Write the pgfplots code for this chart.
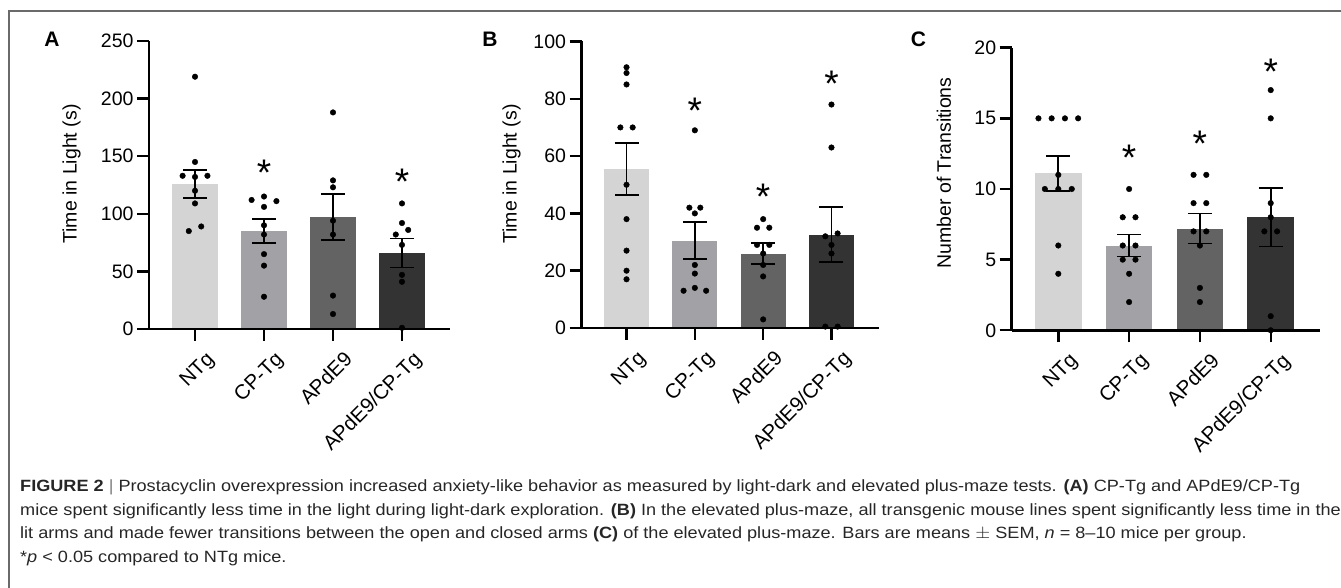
\documentclass[border=0pt]{standalone}
\usepackage{fontspec}
\setmainfont{Liberation Sans}
\usepackage{graphicx}
\usepackage{pgfplots}
\pgfplotsset{compat=1.18}

\definecolor{cNT}{HTML}{D4D4D4}
\definecolor{cCP}{HTML}{A2A2A6}
\definecolor{cAP}{HTML}{636363}
\definecolor{cAC}{HTML}{333333}
\definecolor{frame}{HTML}{6A6A6A}

\newcommand{\tickfont}{\fontsize{19.5}{22}\selectfont}
\newcommand{\xtickfont}{\fontsize{20.5}{23}\selectfont}
\newcommand{\capfont}{\fontsize{16.3}{19}\selectfont\color{black!85}}

\tikzset{ast/.style={font=\fontsize{37}{37}\selectfont, anchor=base, yshift=-21.5pt, inner sep=0pt}}

\pgfplotsset{
 panel/.style={
  scale only axis, anchor=south west, axis on top, clip=false,
  axis x line=bottom, axis y line=left,
  axis line style={line width=2.6pt, -},
  tick align=outside, major tick length=12pt,
  every tick/.style={line width=2.4pt, black},
  ymin=0,
  xtick={0,1,2,3},
  xticklabels={NTg,CP-Tg,APdE9,APdE9/CP-Tg},
  xticklabel style={rotate=45, anchor=north east, font=\xtickfont, xshift=4pt, yshift=-10pt},
  yticklabel style={font=\tickfont},
  /pgf/number format/assume math mode=true,
 },
 bars/.style={ybar, bar width=0.66, bar shift=0pt, draw=none, fill=#1,
  error bars/.cd, y dir=both, y explicit,
  error bar style={line width=1.8pt, draw=black},
  error mark options={rotate=90, line width=1.8pt, draw=black, mark size=12pt}},
 dots/.style={only marks, mark=*, mark size=2.8pt, draw=black, fill=black},
}

\newsavebox{\capbox}

\begin{document}
\sbox{\capbox}{\capfont\textbf{FIGURE 2} {\color{black!50}|} Prostacyclin overexpression increased anxiety-like behavior as measured by light-dark and elevated plus-maze tests. \textbf{(A)} CP-Tg and APdE9/CP-Tg}%
\pgfmathsetmacro{\capratio}{1280/\wd\capbox}%
\begin{tikzpicture}[x=1pt,y=1pt]
\path[use as bounding box] (0,0) rectangle (1341,588);
\draw[frame, line width=1.3pt] (9,0) -- (9,577) -- (1341,577);

% ---------- Panel A ----------
\begin{axis}[panel, at={(149pt,259pt)}, width=301pt, height=288pt,
  xmin=-0.667, xmax=3.696, ymax=250, ytick={0,50,100,150,200,250}]
\addplot[bars=cNT] coordinates {(0,126) +- (0,12.2)};
\addplot[bars=cCP] coordinates {(1,85) +- (0,10.3)};
\addplot[bars=cAP] coordinates {(2,97) +- (0,20)};
\addplot[bars=cAC] coordinates {(3,66) +- (0,12.6)};
\addplot[dots] coordinates {
 (0,219) (0,145) (-0.18,133) (0,132) (0.18,133) (0,120) (0,109) (-0.09,85) (0.09,89)
 (0.82,112) (1,115) (1.18,111) (1,106) (1,90) (1,82) (1,65) (1,55) (1,28)
 (2,188) (2,129) (2,123) (2,94) (2,82) (2,29) (2,13)
 (3,109) (3,92) (2.91,82) (3.09,86) (3,73) (3,47) (3,41) (3,1)
};
\node[ast] at (axis cs:1,143) {*};
\node[ast] at (axis cs:3,135) {*};
\end{axis}

% ---------- Panel B ----------
\begin{axis}[panel, at={(581.5pt,260pt)}, width=297.8pt, height=286.5pt,
  xmin=-0.659, xmax=3.70, ymax=100, ytick={0,20,40,60,80,100}]
\addplot[bars=cNT] coordinates {(0,55.5) +- (0,9.15)};
\addplot[bars=cCP] coordinates {(1,30.5) +- (0,6.4)};
\addplot[bars=cAP] coordinates {(2,26) +- (0,3.7)};
\addplot[bars=cAC] coordinates {(3,32.5) +- (0,9.6)};
\addplot[dots] coordinates {
 (0,91) (0,89) (0,85) (-0.09,70) (0.09,70) (0,50) (0,38) (0,27) (0,20) (0,17)
 (1,69) (0.92,42) (1.08,42) (1,40) (1,22) (1,19) (0.835,13) (1,14) (1.165,13)
 (2,38) (1.91,35) (2.09,35) (1.91,29) (2.09,29) (2,26) (2,22) (2,18) (2,3)
 (3,78) (3,63) (2.91,32) (3.09,33) (3,29) (3,26) (2.91,0.5) (3.09,0.5)
};
\node[ast] at (axis cs:1,79) {*};
\node[ast] at (axis cs:2,49) {*};
\node[ast] at (axis cs:3,88.3) {*};
\end{axis}

% ---------- Panel C ----------
\begin{axis}[panel, at={(1011.7pt,257.7pt)}, width=308.3pt, height=282.6pt,
  xmin=-0.658, xmax=3.696, ymax=20, ytick={0,5,10,15,20}]
\addplot[bars=cNT] coordinates {(0,11.1) +- (0,1.25)};
\addplot[bars=cCP] coordinates {(1,6.0) +- (0,0.78)};
\addplot[bars=cAP] coordinates {(2,7.2) +- (0,1.06)};
\addplot[bars=cAC] coordinates {(3,8.0) +- (0,2.07)};
\addplot[dots] coordinates {
 (-0.28,15) (-0.094,15) (0.094,15) (0.28,15) (0,11) (-0.19,10) (0,10) (0.19,10) (0,6) (0,4)
 (1,10) (0.91,8) (1.09,8) (0.91,6) (1.09,6) (0.91,5) (1.09,5) (1,4) (1,2)
 (1.91,11) (2.09,11) (1.91,9) (2.09,9) (1.91,7) (2.09,7) (2,6) (2,3) (2,2)
 (3,17) (3,15) (3,9) (3,8) (2.91,7) (3.09,7) (3,1) (3,0)
};
\node[ast] at (axis cs:1,12.8) {*};
\node[ast] at (axis cs:2,13.8) {*};
\node[ast] at (axis cs:3,18.9) {*};
\end{axis}

% panel letters and y labels
\node[font=\fontsize{21}{21}\selectfont\bfseries] at (52,548.5) {A};
\node[font=\fontsize{21}{21}\selectfont\bfseries] at (490,549) {B};
\node[font=\fontsize{21}{21}\selectfont\bfseries] at (918.5,548.5) {C};
\node[rotate=90, font=\tickfont] at (71.7,414) {Time in Light (s)};
\node[rotate=90, font=\tickfont] at (511.7,414) {Time in Light (s)};
\node[rotate=90, font=\tickfont] at (944,415) {Number of Transitions};

% caption
\node[anchor=base west, inner sep=0pt] at (20,96) {\scalebox{\capratio}[1]{\usebox{\capbox}}};
\node[anchor=base west, inner sep=0pt] at (20,72.5) {\scalebox{\capratio}[1]{\capfont mice spent significantly less time in the light during light-dark exploration. \textbf{(B)} In the elevated plus-maze, all transgenic mouse lines spent significantly less time in the}};
\node[anchor=base west, inner sep=0pt] at (20,49) {\scalebox{\capratio}[1]{\capfont lit arms and made fewer transitions between the open and closed arms \textbf{(C)} of the elevated plus-maze. Bars are means $\pm$ SEM, \textit{n} = 8–10 mice per group.}};
\node[anchor=base west, inner sep=0pt] at (20,25.5) {\scalebox{\capratio}[1]{\capfont *\textit{p} < 0.05 compared to NTg mice.}};
\end{tikzpicture}
\end{document}
